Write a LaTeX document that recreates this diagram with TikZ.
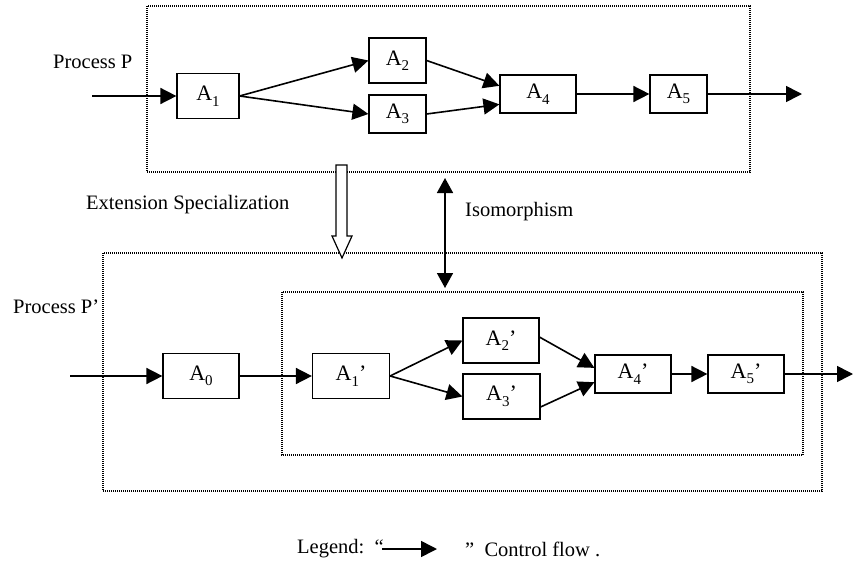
\documentclass[tikz,border=0pt]{standalone}
\usepackage{fontspec}
\setmainfont{Liberation Serif}
\usetikzlibrary{arrows.meta}
\newcommand{\idx}[1]{\raisebox{-0.25em}{\fontsize{15}{15}\selectfont #1}}
\tikzset{
  act/.style={draw, line width=1.2pt, inner sep=0pt, minimum width=76pt, minimum height=45pt, font=\fontsize{22}{24}\selectfont},
  flow/.style={line width=1.6pt, -{Triangle[length=16pt,width=16pt]}},
  iso/.style={line width=1.6pt, {Triangle[length=15pt,width=16pt]}-{Triangle[length=15pt,width=16pt]}},
  frame/.style={line width=1.1pt, dash pattern=on 1pt off 1pt},
  lbl/.style={inner sep=0pt, anchor=west},
}
\begin{document}
\begin{tikzpicture}[x=1pt, y=-1pt, font=\fontsize{20.5}{24}\selectfont]
\useasboundingbox (0,0) rectangle (854,562);
%Frames
\draw [frame] (147,6) rectangle (750,172);
\draw [frame] (103,253) rectangle (822,491);
\draw [frame] (282,292) rectangle (803,455);
%Process P
\node [act, minimum width=62pt] (a1) at (208,96) {A\idx{1}};
\node [act, minimum width=57pt] (a2) at (397.5,60.5) {A\idx{2}};
\node [act, minimum width=57pt, minimum height=38pt] (a3) at (397.5,114) {A\idx{3}};
\node [act, minimum height=38pt] (a4) at (538,94) {A\idx{4}};
\node [act, minimum width=57pt, minimum height=38pt] (a5) at (678.5,94) {A\idx{5}};
\coordinate (inP) at (92,96);
\coordinate (outP) at (802,94);
\draw [flow] (inP) -- (a1);
\draw [flow] (a1.east) -- (a2.west);
\draw [flow] (a1.east) -- (a3.west);
\draw [flow] (a2.east) -- (a4.168);
\draw [flow] (a3.east) -- (a4.195);
\draw [flow] (a4) -- (a5);
\draw [flow] (a5) -- (outP);
%Process P'
\node [act] (a0) at (201,376) {A\idx{0}};
\node [act, minimum width=77pt] (b1) at (351,376) {A\idx{1}’};
\node [act] (b2) at (501,340.5) {A\idx{2}’};
\node [act, minimum width=77pt] (b3) at (501.5,396.5) {A\idx{3}’};
\node [act, minimum height=38pt] (b4) at (633,374) {A\idx{4}’};
\node [act, minimum height=38pt] (b5) at (746,374) {A\idx{5}’};
\coordinate (inQ) at (70,376);
\coordinate (outQ) at (853,374);
\draw [flow] (inQ) -- (a0);
\draw [flow] (a0) -- (b1);
\draw [flow] (b1.east) -- (b2.west);
\draw [flow] (b1.east) -- (b3.west);
\draw [flow] (b2.5) -- (b4.171);
\draw [flow] (b3.-15) -- (b4.192);
\draw [flow] (b4) -- (b5);
\draw [flow] (b5) -- (outQ);
%Relations
\draw [line width=1.2pt, fill=white] (336,165) -- (336,236) -- (332,236) -- (342,258) -- (352,236) -- (347,236) -- (347,165) -- cycle;
\coordinate (isoTop) at (445,178);
\coordinate (isoBot) at (445,288);
\draw [iso] (isoTop) -- (isoBot);
%Text
\node [lbl] (pP) at (53,62) {Process P};
\node [lbl] (pQ) at (13,307) {Process P’};
\node [lbl] (ext) at (86,205) {Extension Specialization};
\node [lbl] (isoT) at (465,212) {Isomorphism};
%Legend
\node [lbl] (lgA) at (297,549) {Legend:\ \ “};
\coordinate (lgS) at (382,549);
\coordinate (lgE) at (437,549);
\draw [flow] (lgS) -- (lgE);
\node [lbl] (lgB) at (465,549) {”\ \ Control flow .};
\end{tikzpicture}
\end{document}
